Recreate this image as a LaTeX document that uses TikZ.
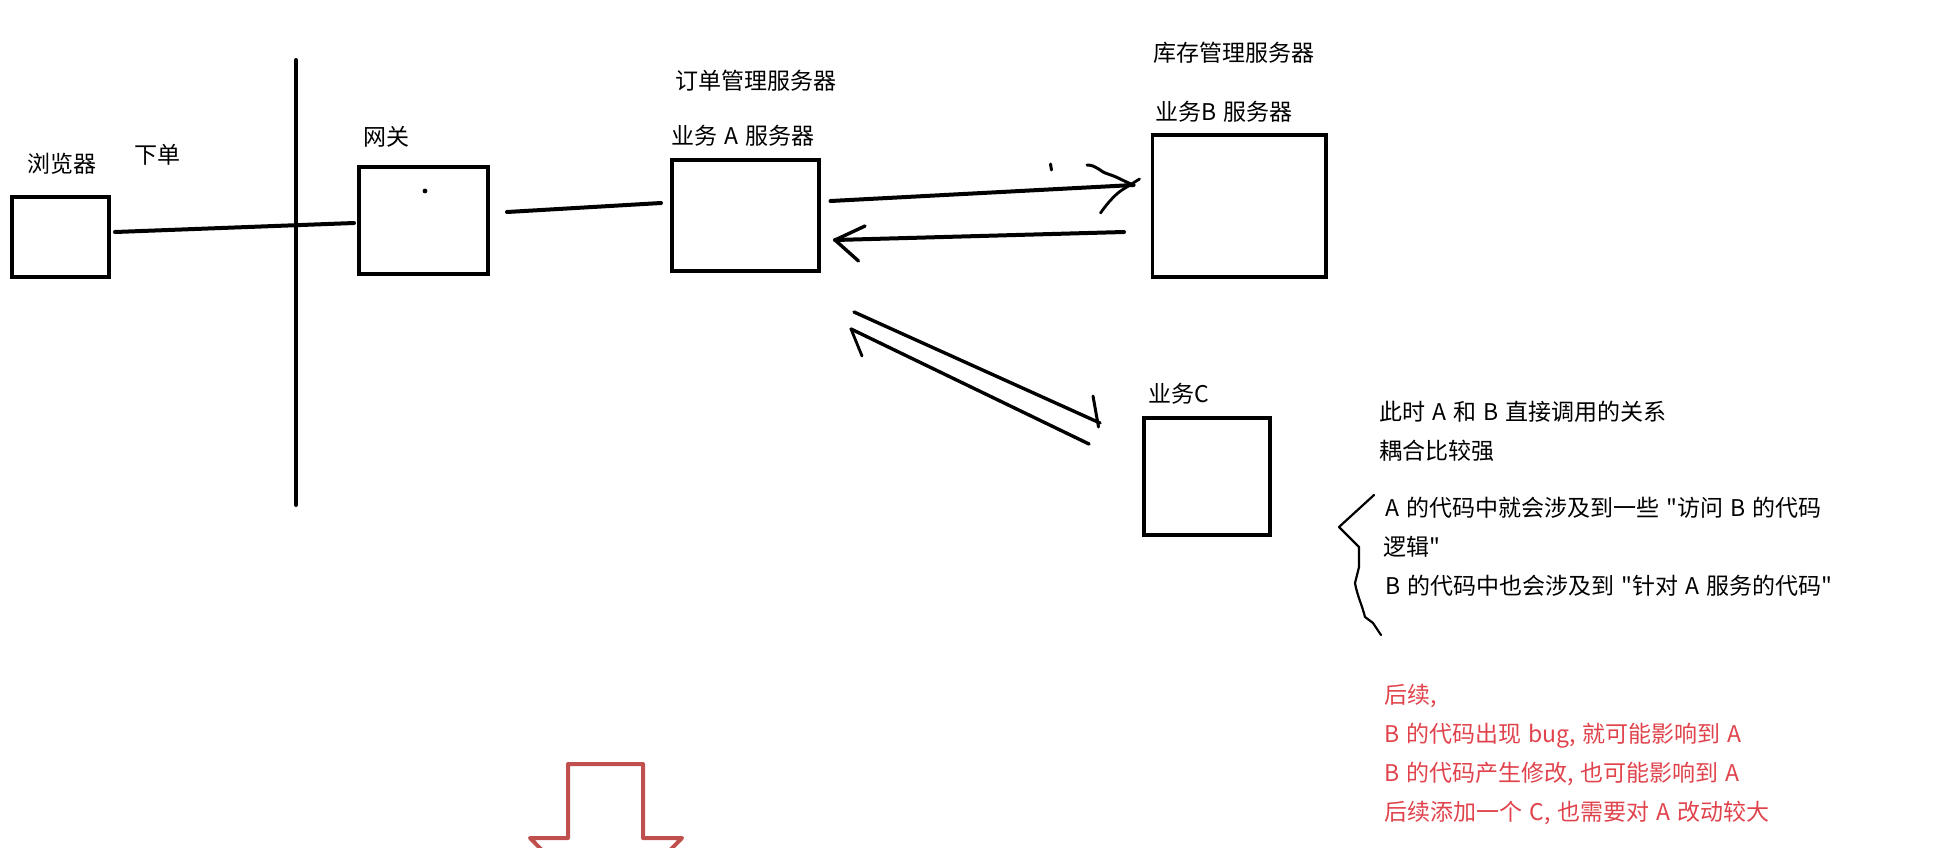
\documentclass[tikz,border=0pt]{standalone}
\usepackage{fontspec}
\newfontfamily\cnfont[WordSpace=1.35]{Noto Sans CJK SC}
\definecolor{inkred}{HTML}{E0434C}
\definecolor{arrowred}{HTML}{C0504D}
\tikzset{
  ink/.style={draw=black,line width=2pt,line cap=round,line join=round},
  thin ink/.style={draw=black,line width=1.1pt,line cap=round,line join=round},
  boxnode/.style={draw=black,line width=1.9pt,fill=white,inner sep=0pt,anchor=north west,outer sep=0pt},
  label/.style={anchor=west,inner sep=0pt,font=\cnfont\fontsize{11.5pt}{14pt}\selectfont,text height=9.8pt,text depth=1.7pt},
  redlabel/.style={label,text=inkred}
}
\begin{document}
\begin{tikzpicture}[x=0.5pt,y=-0.5pt]
\useasboundingbox (0,0) rectangle (1959,847);
% boxes
\node[boxnode,minimum width=48.7pt,minimum height=40.2pt] (browser) at (11.9,196.9) {};
\node[boxnode,minimum width=64.7pt,minimum height=53.7pt] (gateway) at (358.9,166.9) {};
\node[boxnode,minimum width=73.7pt,minimum height=55.7pt] (svcA) at (671.9,159.9) {};
\node[boxnode,minimum width=86.7pt,minimum height=71.2pt] (svcB) at (1152.4,134.9) {};
\node[boxnode,minimum width=63.2pt,minimum height=58.7pt] (svcC) at (1143.9,417.9) {};
% free ends
\coordinate (wallT) at (296,60);
\coordinate (wallB) at (296,505);
\coordinate (b1) at (115,232);
\coordinate (g1) at (354,223);
\coordinate (g2) at (507,212);
\coordinate (a1) at (661,203);
\coordinate (ab1) at (830.5,201);
\coordinate (ab2) at (1133.6,185);
\coordinate (ba1) at (1124,232);
\coordinate (ba2) at (835,240);
\coordinate (ac1) at (854,312);
\coordinate (ac2) at (1100,423);
\coordinate (ca1) at (1089,444);
\coordinate (ca2) at (851,329);
% connectors
\draw[ink] (wallT) -- (wallB);
\draw[ink] (b1) -- (g1);
\draw[ink] (g2) -- (a1);
\draw[ink] (ab1) -- (ab2);
\draw[ink,line width=1.5pt] (1087,165) .. controls (1097,165) and (1100,172) .. (1108,174) .. controls (1118,177) and (1125,182) .. (ab2);
\draw[thin ink,line width=1.4pt] (1100.5,213) .. controls (1108,202) and (1117,193) .. (1122,190) -- (1139.5,179);
\draw[thin ink,line width=1.5pt] (1050.5,164) -- (1051.5,170);
\draw[ink] (ba1) -- (ba2);
\draw[ink,line width=1.7pt] (865,226) -- (ba2) -- (858.5,261);
\draw[ink,line width=1.7pt] (ac1) -- (ac2);
\draw[ink,line width=1.5pt] (1093,396) -- (1098.5,427);
\draw[ink,line width=1.7pt] (ca1) -- (ca2);
\draw[ink,line width=1.4pt] (862,356) -- (ca2);
\draw[thin ink] (1374,495) -- (1339,527) -- (1359,547) -- (1359,567) -- (1355,583) .. controls (1357,595) and (1362,605) .. (1365,617) -- (1373,623) -- (1381,635);
% dot in gateway
\fill (425,191) circle (2.4);
% red outline arrow, running past the bottom edge
\begin{scope}
\clip (0,0) rectangle (1959,847);
\draw[arrowred,line width=2pt,line join=round] (568,764) -- (643,764) -- (643,838) -- (682,838) -- (606,915) -- (530,838) -- (568,838) -- cycle;
\end{scope}
% texts
\node[label] (t1) at (27,164) {浏览器};
\node[label] (t2) at (134,155) {下单};
\node[label] (t3) at (363,137) {网关};
\node[label] (t4) at (675,81) {订单管理服务器};
\node[label] (t5) at (671,136) {业务 A 服务器};
\node[label] (t6) at (1153,53) {库存管理服务器};
\node[label] (t7) at (1155,112) {业务B 服务器};
\node[label] (t8) at (1148.5,394) {业务C};
\node[label] (t9) at (1379.5,412) {此时 A 和 B 直接调用的关系};
\node[label] (t10) at (1379.5,451) {耦合比较强};
\node[label] (t11) at (1385,508) {A 的代码中就会涉及到一些 "访问 B 的代码};
\node[label] (t12) at (1383,547) {逻辑"};
\node[label] (t13) at (1385,586) {B 的代码中也会涉及到 "针对 A 服务的代码"};
\node[redlabel] (r1) at (1384,695) {后续,};
\node[redlabel] (r2) at (1384,734) {B 的代码出现 bug, 就可能影响到 A};
\node[redlabel] (r3) at (1384,773) {B 的代码产生修改, 也可能影响到 A};
\node[redlabel] (r4) at (1384,812) {后续添加一个 C, 也需要对 A 改动较大};
\end{tikzpicture}
\end{document}
